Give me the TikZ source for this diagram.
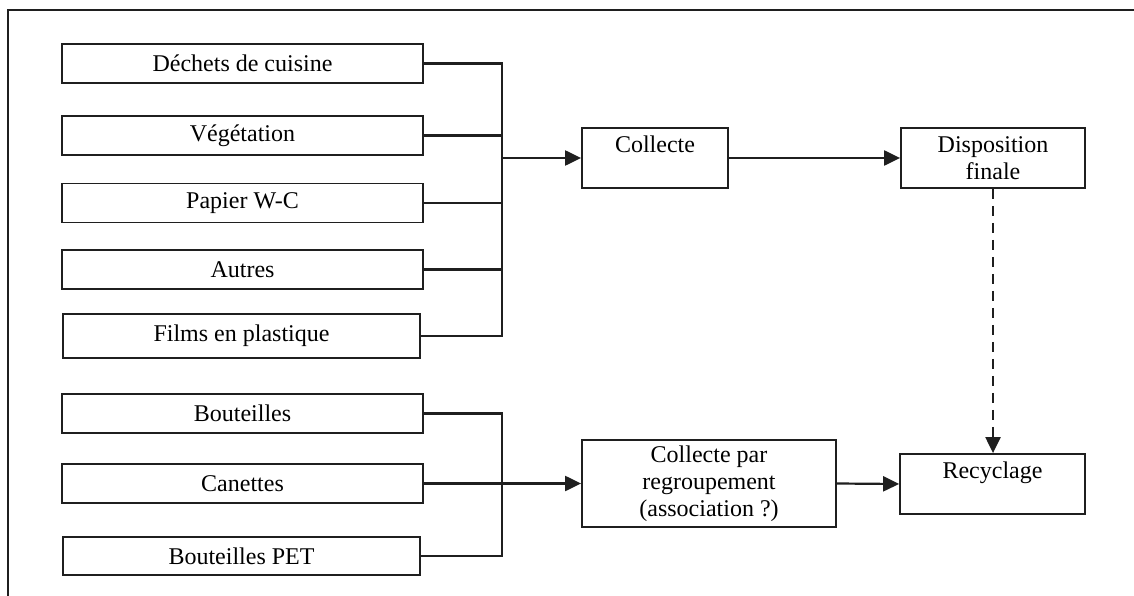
\documentclass[tikz,border=0pt]{standalone}
\usepackage{fontspec}
\setmainfont{Liberation Serif}
\usetikzlibrary{arrows.meta}
\tikzset{
  box/.style={draw=black!88, line width=1.8pt, inner sep=0pt, align=center,
    font=\fontsize{24}{27}\selectfont},
  conn/.style={draw=black!88, line width=2.2pt},
  arr/.style={conn, -{Triangle[length=16pt,width=15pt]}},
  dash conn/.style={arr, dash pattern=on 10pt off 7pt},
}
\begin{document}
\begin{tikzpicture}[x=1pt,y=-1pt]
\useasboundingbox (0,0) rectangle (1134,596);
\draw[line width=2pt, black!88] (8,596) -- (8,10) -- (1134,10);

% left boxes
\node[box, minimum width=361pt, minimum height=39pt] (dechets) at (242.5,63.5) {Déchets de cuisine};
\node[box, minimum width=361pt, minimum height=39pt] (veg) at (242.5,135.5) {Végétation};
\node[box, minimum width=361pt, minimum height=39pt] (papier) at (242.5,203) {Papier W-C};
\node[box, minimum width=361pt, minimum height=39pt] (autres) at (242.5,269.5) {Autres};
\node[box, minimum width=357pt, minimum height=44pt] (films) at (241.5,336) {Films en plastique};
\node[box, minimum width=361pt, minimum height=39pt] (bout) at (242.5,413.5) {Bouteilles};
\node[box, minimum width=361pt, minimum height=39pt] (canettes) at (242.5,483.5) {Canettes};
\node[box, minimum width=357pt, minimum height=38pt] (pet) at (241.5,556) {Bouteilles PET};

% right boxes
\node[box, minimum width=146pt, minimum height=60pt] (collecte) at (655,158) {Collecte\\\mbox{}};
\node[box, minimum width=184pt, minimum height=60pt] (dispo) at (993,158) {Disposition\\finale};
\node[box, minimum width=254pt, minimum height=87pt] (cpar) at (709,483.5) {Collecte par\\regroupement\\(association ?)};
\node[box, minimum width=185pt, minimum height=60pt] (recyc) at (992.5,484) {Recyclage\\\mbox{}};

% bus 1
\coordinate (b1) at (502,158);
\draw[conn] (dechets.east) -| (b1);
\draw[conn] (films.east) -| (b1);
\draw[conn] (veg.east) -- (veg.east -| b1);
\draw[conn] (papier.east) -- (papier.east -| b1);
\draw[conn] (autres.east) -- (autres.east -| b1);
\draw[arr] (b1) -- (collecte.west);

% bus 2
\coordinate (b2) at (502,483.5);
\draw[conn] (bout.east) -| (b2);
\draw[conn] (pet.east) -| (b2);
\draw[arr] (canettes.east) -- (cpar.west);

% other arrows
\draw[arr] (collecte.east) -- (dispo.west);
\draw[arr] (cpar.east) -- (recyc.west);
\draw[dash conn] (dispo.south) -- (dispo.south |- recyc.north);
\end{tikzpicture}
\end{document}
